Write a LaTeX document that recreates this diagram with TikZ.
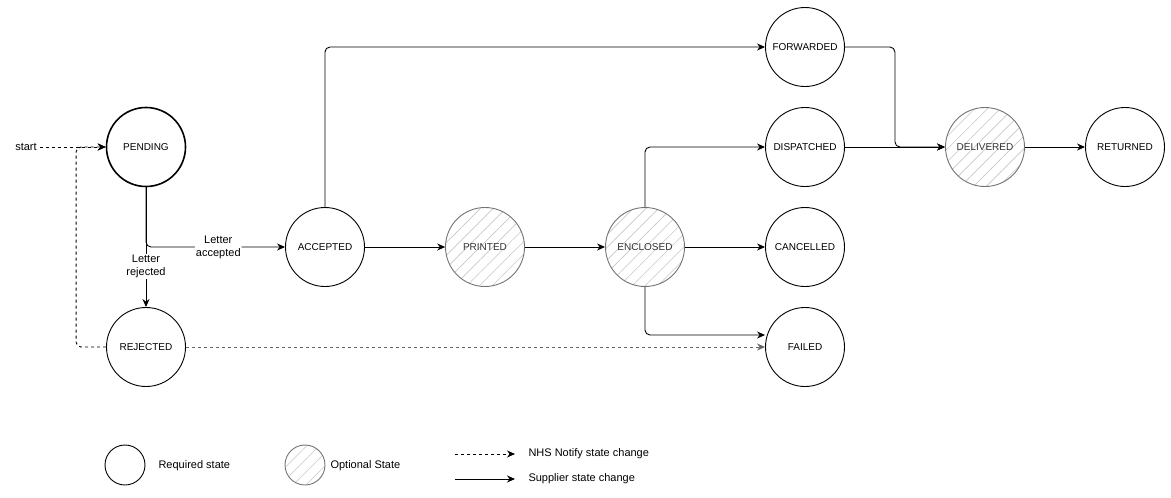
\documentclass[tikz,border=0pt]{standalone}
\usepackage{fontspec}
\setmainfont{Liberation Sans}
\usetikzlibrary{arrows.meta,patterns.meta}
\tikzset{
state/.style={draw, circle, minimum size=79pt, inner sep=0pt, line width=0.9pt,
  font=\fontsize{10}{12}\selectfont},
required/.style={state},
optional/.style={state, draw=black!55, text=black!80,
  pattern={Lines[angle=45,distance=9pt,line width=0.6pt]}, pattern color=black!22},
tr/.style={-{Stealth[length=8pt,width=7pt]}, line width=0.9pt, rounded corners=5pt},
nhs/.style={tr, dashed},
elabel/.style={fill=white, inner sep=1pt, align=center, font=\fontsize{11}{13}\selectfont},
legtext/.style={anchor=west, font=\fontsize{11}{13}\selectfont}
}

\begin{document}
\begin{tikzpicture}[x=1pt,y=-1pt]
\useasboundingbox (0,0) rectangle (1171,498);

% states
\node[required, line width=1.6pt] (pend) at (146,147) {PENDING};
\node[required] (rej) at (146,347) {REJECTED};
\node[required] (acc) at (325,247) {ACCEPTED};
\node[optional] (prn) at (485,247) {PRINTED};
\node[optional] (enc) at (645,247) {ENCLOSED};
\node[required] (fwd) at (805,47) {FORWARDED};
\node[required] (dsp) at (805,147) {DISPATCHED};
\node[required] (cnc) at (805,247) {CANCELLED};
\node[required] (fail) at (805,347) {FAILED};
\node[optional] (del) at (985,147) {DELIVERED};
\node[required] (ret) at (1125,147) {RETURNED};
\node[legtext, anchor=center] (start) at (26,147) {start};

% transitions
\draw[nhs] (start) -- (pend);
\draw[nhs] (rej.west) -- ++(-30,0) |- (pend.west);
\draw[tr] (pend.south) -- node[elabel, pos=0.66] {Letter\\rejected} (rej.north);
\draw[tr] (pend.south) |- node[elabel, pos=0.76] {Letter\\accepted} (acc.west);
\draw[tr] (acc) -- (prn);
\draw[tr] (prn) -- (enc);
\draw[tr] (enc) -- (cnc);
\draw[tr] (acc.north) |- (fwd.west);
\draw[tr] (enc.north) |- (dsp.west);
\draw[tr] (enc.south) |- ([yshift=12pt]fail.west);
\draw[nhs, draw=black!60] (rej.east) -- (fail.west);
\draw[tr] (fwd.east) -- ++(50,0) |- (del.west);
\draw[tr] (dsp) -- (del);
\draw[tr] (del) -- (ret);

% legend
\node[draw, circle, minimum size=40pt, inner sep=0pt, line width=0.9pt] (lreq) at (125,465) {};
\node[legtext] at (155,466) {Required state};
\node[optional, minimum size=40pt] (lopt) at (305,465) {};
\node[legtext] at (327,466) {Optional State};
\coordinate (la1) at (455,454);
\coordinate (lb1) at (515,454);
\coordinate (la2) at (455,479);
\coordinate (lb2) at (515,479);
\draw[nhs] (la1) -- (lb1);
\draw[tr] (la2) -- (lb2);
\node[legtext] at (525,454) {NHS Notify state change};
\node[legtext] at (525,479) {Supplier state change};
\end{tikzpicture}
\end{document}
